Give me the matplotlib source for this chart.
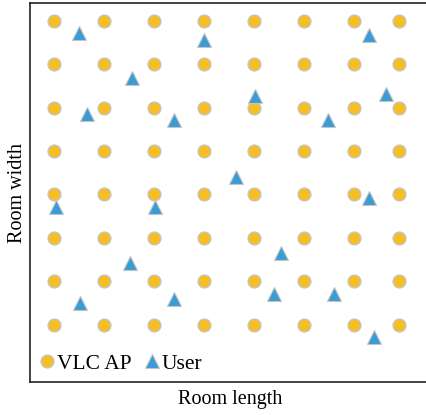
import matplotlib
matplotlib.use("Agg")
import matplotlib.pyplot as plt
import numpy as np

plt.rcParams['font.family'] = ['Liberation Serif', 'DejaVu Serif']

# AP grid (in pixel-like room units)
ap_cols = [24, 74, 124, 174, 224, 274, 324, 369]
ap_rows = [361, 318, 274, 231, 188, 144, 101, 57]

# user positions
user_x = [49, 174, 339, 102, 225, 356, 57, 144, 298, 206, 26, 125, 339, 251, 100, 244, 304, 50, 144, 344]
user_y = [349, 342, 347, 304, 286, 288, 268, 262, 262, 205, 175, 175, 184, 129, 119, 88, 88, 79, 83, 45]

ap_x, ap_y = np.meshgrid(ap_cols, ap_rows)

fig = plt.figure(figsize=(4.26, 4.15), dpi=100)
ax = fig.add_axes([30/426, (415-382)/415, 1 - 30/426 + 0.01, (382-3)/415])

ax.plot(ap_x.ravel(), ap_y.ravel(), 'o', color='#F6BE22', markeredgecolor='#C4C4C4',
        markeredgewidth=1.0, markersize=9.2, linestyle='none', label='VLC AP')
ax.plot(user_x, user_y, '^', color='#3A9BD5', markeredgecolor='#C4C4C4',
        markeredgewidth=0.8, markersize=9.8, linestyle='none', label='User')

ax.set_xlim(0, 400)
ax.set_ylim(0, 379)
ax.set_xticks([])
ax.set_yticks([])
for s in ax.spines.values():
    s.set_linewidth(1.2)
    s.set_color('#222222')

ax.set_xlabel('Room length', fontsize=14.5, labelpad=6)
ax.set_ylabel('Room width', fontsize=14.5, labelpad=2)

leg = ax.legend(loc='lower left', frameon=False, fontsize=15.5, handletextpad=0.05,
                handlelength=0.8, borderaxespad=0.0, columnspacing=0.56, ncol=2,
                borderpad=0.39)

fig.savefig('out.png', dpi=100)
